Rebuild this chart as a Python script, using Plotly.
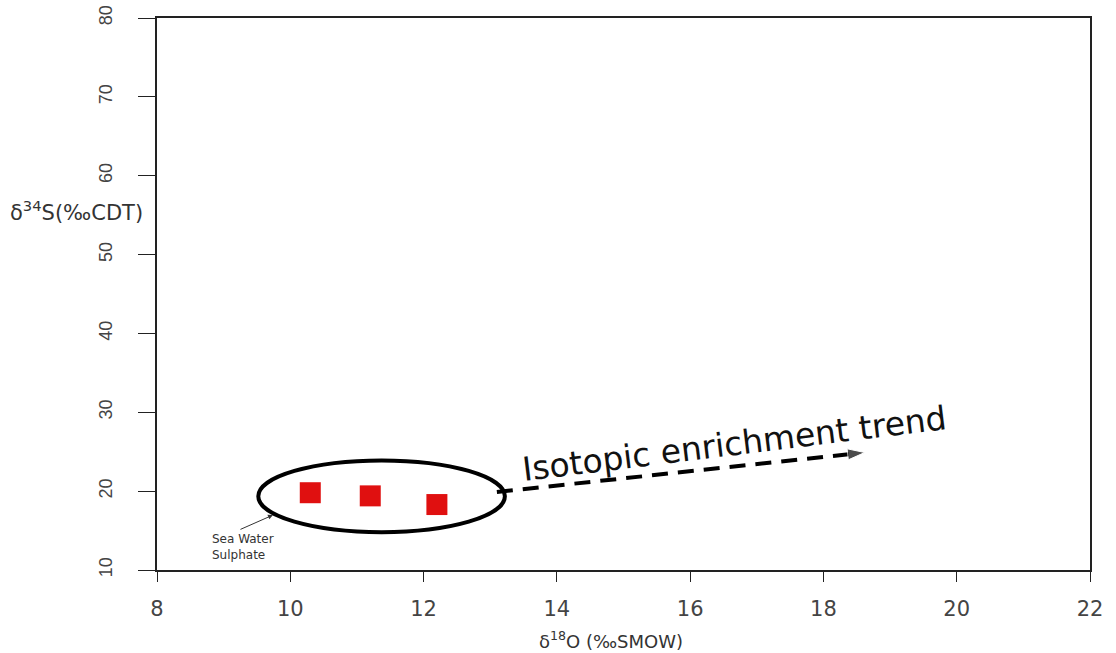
import plotly.graph_objects as go

# Data
d18O = [10.3, 11.2, 12.2]
d34S = [19.8, 19.4, 18.3]
x_ticks = [8, 10, 12, 14, 16, 18, 20, 22]
y_ticks = [10, 20, 30, 40, 50, 60, 70, 80]
trend_x = [13.1, 18.62]
trend_y = [19.9, 24.9]

fig = go.Figure()

fig.add_trace(go.Scatter(
    x=d18O, y=d34S, mode="markers",
    marker=dict(symbol="square", size=21, color="#e01010",
                line=dict(width=0)),
    showlegend=False, hoverinfo="skip"))

# dashed trend arrow
fig.add_trace(go.Scatter(
    x=trend_x, y=trend_y, mode="lines+markers",
    line=dict(color="black", width=4, dash="16px,10px"),
    marker=dict(symbol="arrow", angleref="previous", size=[0, 18],
                color="black"),
    showlegend=False, hoverinfo="skip"))

fig.add_shape(type="circle", xref="x", yref="y",
              x0=9.52, x1=13.22, y0=14.8, y1=23.9,
              line=dict(color="black", width=4))

fig.add_annotation(x=16.67, y=26.1, xref="x", yref="y",
                   text="Isotopic enrichment trend", showarrow=False,
                   textangle=-7,
                   font=dict(family="DejaVu Sans", size=33, color="#111"))

fig.add_annotation(x=8.8, y=12.9, xref="x", yref="y", xanchor="left",
                   align="left", text="Sea Water<br>Sulphate",
                   showarrow=False,
                   font=dict(family="DejaVu Sans", size=12, color="#333"))

fig.add_annotation(x=9.74, y=16.97, xref="x", yref="y", ax=-34, ay=15,
                   text="", showarrow=True, arrowhead=2, arrowsize=1,
                   arrowwidth=1, arrowcolor="#333")

fig.add_annotation(x=-0.0868, y=55.5, xref="paper", yref="y",
                   xanchor="center", yanchor="middle",
                   text="δ<sup>34</sup>S(‰CDT)", showarrow=False,
                   font=dict(family="DejaVu Sans", size=21, color="#333"))

fig.add_annotation(x=0.487, y=-0.127, xref="paper", yref="paper",
                   xanchor="center", yanchor="middle",
                   text="δ<sup>18</sup>O (‰SMOW)", showarrow=False,
                   font=dict(family="DejaVu Sans", size=18, color="#333"))

fig.update_xaxes(range=[8, 22], tickvals=x_ticks, ticks="outside",
                 ticklen=10, tickcolor="#222", showline=True,
                 linecolor="#222", linewidth=1.5, mirror=True,
                 showgrid=False, zeroline=False, ticklabelstandoff=9,
                 automargin=False, ticklabeloverflow="allow",
                 tickfont=dict(family="DejaVu Sans", size=21, color="#444"))
fig.update_yaxes(range=[10, 80], tickvals=y_ticks, ticks="outside",
                 ticklen=17, tickcolor="#222", showline=True,
                 linecolor="#222", linewidth=1.5, mirror=True,
                 showgrid=False, zeroline=False, tickangle=-90,
                 ticklabelstandoff=19, automargin=False,
                 ticklabeloverflow="allow",
                 tickfont=dict(family="Liberation Sans", size=18, color="#444"))

fig.update_layout(width=1116, height=653,
                  margin=dict(l=157, r=26, t=18, b=83),
                  plot_bgcolor="white", paper_bgcolor="white")

fig.write_html("out.html", config={"displayModeBar": False},
               post_script="document.body.style.margin='0';")
